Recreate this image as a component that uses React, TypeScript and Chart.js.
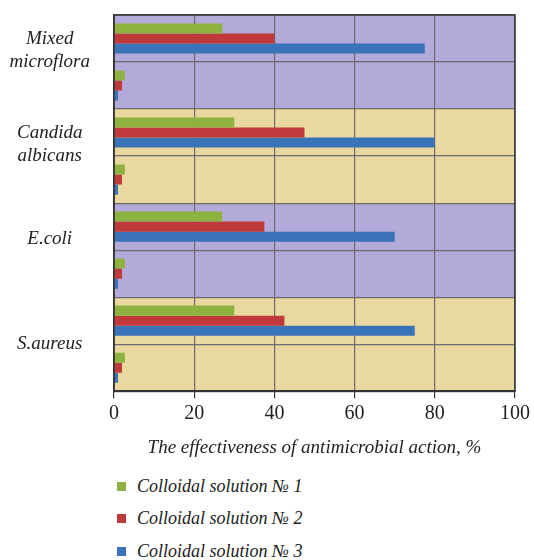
import React, { useEffect, useRef } from "react";
import { Chart, registerables } from "chart.js";

Chart.register(...registerables);

const rowLabels = ["", "", "", "", "", "", "", ""];
const groupLabels = [["Mixed", "microflora", ""], ["Candida", "albicans", ""], ["E.coli", ""], ["S.aureus"]];
const solution1 = [27, 2.7, 30, 2.7, 27, 2.7, 30, 2.7];
const solution2 = [40, 2, 47.5, 2, 37.5, 2, 42.5, 2];
const solution3 = [77.5, 1, 80, 1, 70, 1, 75, 1];
const seriesNames = ["Colloidal solution № 1", "Colloidal solution № 2", "Colloidal solution № 3"];
const seriesColors = ["#8db23f", "#c0393b", "#3a73b8"];
const bandColors = ["#b3aad9", "#e9d9a1"];
const xTicks = [0, 20, 40, 60, 80, 100];

const FONT = "'Liberation Serif', 'DejaVu Serif', serif";

const bandsPlugin = {
  id: "bands",
  beforeDraw(chart: any) {
    const { ctx, chartArea } = chart;
    const n = groupLabels.length;
    const h = (chartArea.bottom - chartArea.top) / n;
    ctx.save();
    for (let i = 0; i < n; i++) {
      ctx.fillStyle = bandColors[i % 2];
      ctx.fillRect(chartArea.left, chartArea.top + i * h, chartArea.right - chartArea.left, h);
    }
    ctx.restore();
  },
  afterDraw(chart: any) {
    const { ctx, chartArea } = chart;
    ctx.save();
    ctx.strokeStyle = "#333";
    ctx.lineWidth = 1.5;
    ctx.strokeRect(chartArea.left, chartArea.top, chartArea.right - chartArea.left, chartArea.bottom - chartArea.top);
    ctx.restore();
  },
};

export default function App() {
  const ref = useRef<HTMLCanvasElement>(null);
  useEffect(() => {
    document.body.style.margin = "0";
    const chart = new Chart(ref.current!, {
      type: "bar",
      data: {
        labels: rowLabels,
        datasets: [solution1, solution2, solution3].map((d, i) => ({
          label: seriesNames[i],
          data: d,
          backgroundColor: seriesColors[i],
          categoryPercentage: 0.64,
          barPercentage: 1.0,
          yAxisID: "y",
        })),
      },
      options: {
        indexAxis: "y",
        animation: false,
        responsive: false,
        devicePixelRatio: 1,
        layout: { padding: { top: 15, right: 18, left: 0, bottom: 6 } },
        plugins: { legend: { display: false }, tooltip: { enabled: false } },
        scales: {
          x: {
            min: 0,
            max: 100,
            afterBuildTicks: (s: any) => { s.ticks = xTicks.map((v) => ({ value: v })); },
            grid: { color: "#6e6a6a", lineWidth: 1.2, tickLength: 7, tickColor: "#333" },
            border: { color: "#333", width: 1.5 },
            ticks: { color: "#222", font: { family: FONT, size: 20 }, padding: 4, maxRotation: 0 },
            title: {
              display: true,
              text: "The effectiveness of antimicrobial action, %",
              color: "#222",
              font: { family: FONT, size: 19, style: "italic" },
              padding: { top: 6, bottom: 0 },
            },
          },
          y: {
            type: "category",
            position: "left",
            grid: { color: "#6e6a6a", lineWidth: 1.2, drawTicks: false, offset: true },
            border: { color: "#333", width: 1.5 },
            ticks: { display: false },
            afterFit: (s: any) => { s.width = 0; s.paddingTop = 0; s.paddingBottom = 0; },
          },
          y2: {
            type: "category",
            position: "left",
            labels: groupLabels as any,
            offset: true,
            grid: { display: false, drawTicks: false },
            border: { display: false },
            ticks: {
              color: "#222",
              crossAlign: "center",
              padding: 24,
              font: { family: FONT, size: 19, style: "italic" },
            },
            afterFit: (s: any) => { s.width = 114; s.paddingTop = 0; s.paddingBottom = 0; },
          },
        },
      },
      plugins: [bandsPlugin],
    } as any);
    return () => chart.destroy();
  }, []);

  const legendStyle: React.CSSProperties = {
    position: "absolute",
    left: 117,
    top: 470,
    fontFamily: FONT,
    fontStyle: "italic",
    fontSize: 18,
    color: "#222",
  };
  return (
    <div style={{ position: "relative", width: 534, height: 560, background: "#fff" }}>
      <canvas ref={ref} width={534} height={465} style={{ display: "block" }} />
      <div style={legendStyle}>
        {seriesNames.map((n, i) => (
          <div key={n} style={{ display: "flex", alignItems: "center", height: 32.5 }}>
            <span style={{ display: "inline-block", width: 9, height: 9, background: seriesColors[i], marginRight: 11 }} />
            <span>{n}</span>
          </div>
        ))}
      </div>
    </div>
  );
}
